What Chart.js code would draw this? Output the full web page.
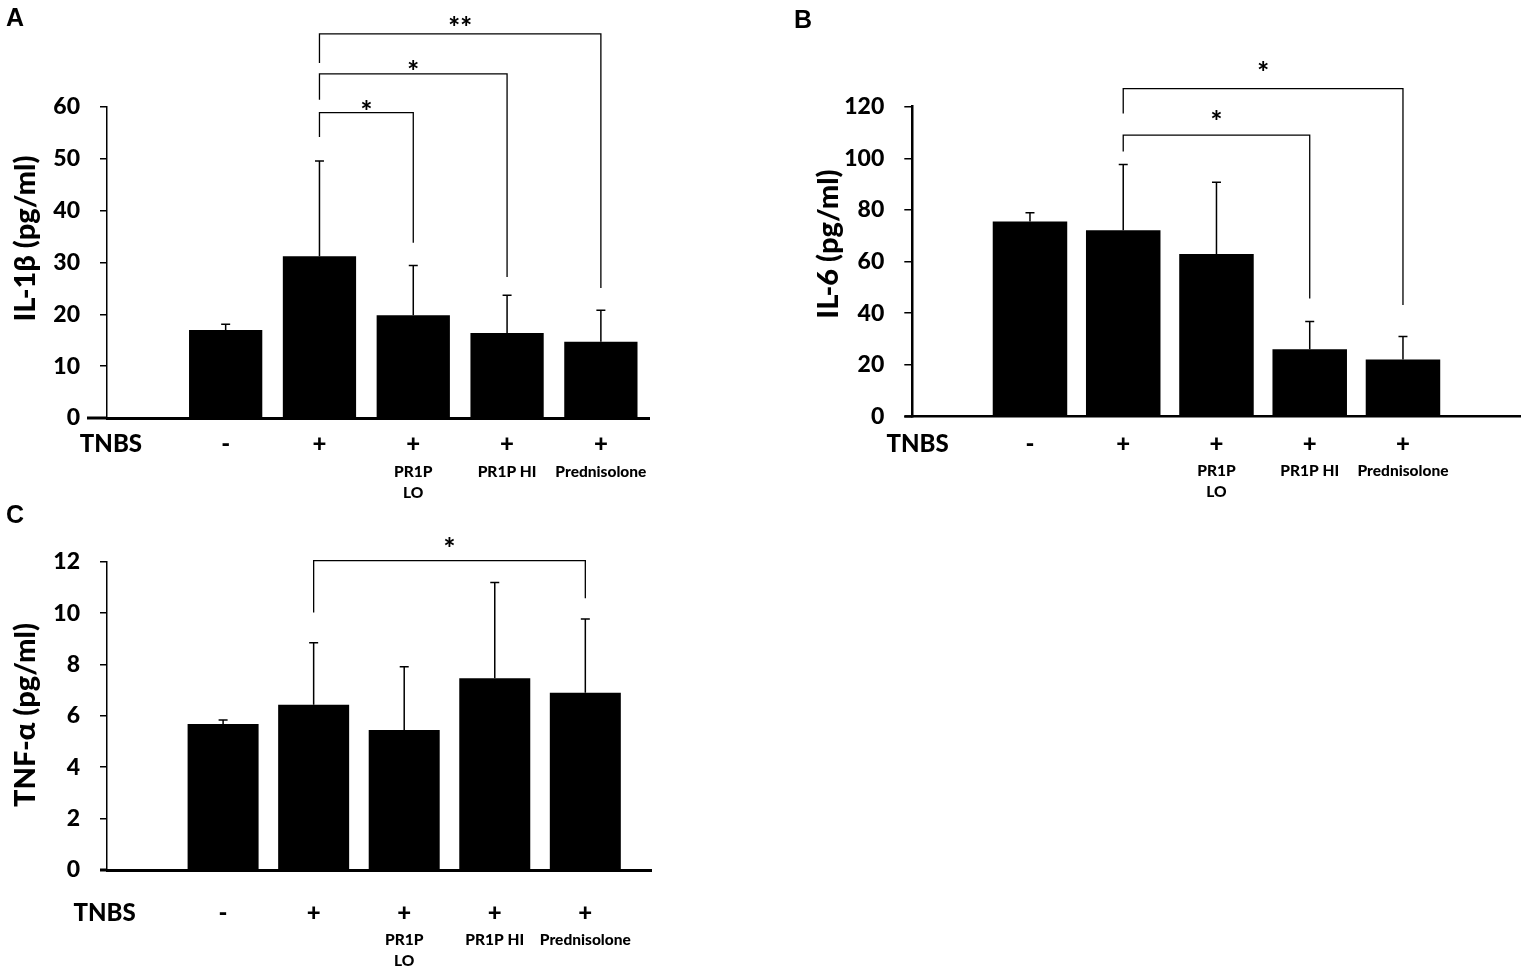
<!DOCTYPE html>
<html>
<head>
<meta charset="utf-8">
<title>Cytokines after TNBS</title>
<script src="https://cdn.jsdelivr.net/npm/chart.js@4.4.0/dist/chart.umd.min.js"></script>
<style>
    html, body { margin: 0; padding: 0; background: #fff; }
    #page { position: relative; width: 1524px; height: 974px; overflow: hidden; }
    canvas { position: absolute; }
    .tag { position: absolute; font: bold 25px "Liberation Sans", Arial, sans-serif; line-height: 1; color: #000; }
</style>
</head>
<body>
<div id="page">
    <canvas id="chartA" width="700" height="510" style="left:0;top:0"></canvas>
    <canvas id="chartB" width="744" height="510" style="left:780px;top:0"></canvas>
    <canvas id="chartC" width="700" height="474" style="left:0;top:500px"></canvas>
    <div class="tag" style="left:6px;top:5px">A</div>
    <div class="tag" style="left:794px;top:7px">B</div>
    <div class="tag" style="left:6px;top:502px">C</div>
</div>
<script>
// Groups (x axis rows)
const rowLabel = 'TNBS';
const tnbs = ['-', '+', '+', '+', '+'];
const treatments = ['', '', ['PR1P', 'LO'], 'PR1P HI', 'Prednisolone'];

// IL-1β (pg/ml), mean and upper error
const il1bMean = [17.0, 31.2, 19.8, 16.4, 14.7];
const il1bErr = [1.1, 18.4, 9.6, 7.3, 6.1];
const il1bTicks = [0, 10, 20, 30, 40, 50, 60];
const il1bBrackets = [
    { from: 2, to: 3, at: 58.9, left: 54.2, right: 33.8, mark: '*', markAt: 60.4 },
    { from: 2, to: 4, at: 66.4, left: 61.4, right: 27.2, mark: '*', markAt: 68.1 },
    { from: 2, to: 5, at: 74.1, left: 68.5, right: 25.1, mark: '**', markAt: 76.6 }
];

// IL-6 (pg/ml)
const il6Mean = [75.5, 72.1, 62.9, 26.0, 22.0];
const il6Err = [3.4, 25.5, 27.8, 10.7, 8.9];
const il6Ticks = [0, 20, 40, 60, 80, 100, 120];
const il6Brackets = [
    { from: 2, to: 4, at: 109.0, left: 102.6, right: 45.7, mark: '*', markAt: 116.8 },
    { from: 2, to: 5, at: 127.0, left: 117.4, right: 43.1, mark: '*', markAt: 135.9 }
];

// TNF-α (pg/ml)
const tnfMean = [5.68, 6.43, 5.45, 7.46, 6.90];
const tnfErr = [0.16, 2.42, 2.46, 3.73, 2.87];
const tnfTicks = [0, 2, 4, 6, 8, 10, 12];
const tnfBrackets = [
    { from: 2, to: 5, at: 12.04, left: 10.02, right: 10.58, mark: '*', markAt: 12.78 }
];

const FONT = 'Lato';
const WEIGHT = '900';

/**
 * Error bars, significance brackets, axis stub and the y title
 */
const marksPlugin = {
    id: 'marks',
    afterDatasetsDraw(chart, args, o) {
        const { ctx, chartArea } = chart;
        const xs = chart.scales.x;
        const ys = chart.scales.y;
        ctx.save();
        ctx.strokeStyle = '#000';
        ctx.fillStyle = '#000';

        // x axis line runs a bit left of the y axis
        const y0 = ys.getPixelForValue(0);
        ctx.lineWidth = o.xAxisWidth;
        ctx.beginPath();
        ctx.moveTo(chartArea.left - o.stub, y0);
        ctx.lineTo(chartArea.left, y0);
        ctx.stroke();

        // upper error bars
        ctx.lineWidth = 1.5;
        o.means.forEach((m, i) => {
            const px = xs.getPixelForValue(i + 1);
            const top = ys.getPixelForValue(m + o.errors[i]);
            ctx.beginPath();
            ctx.moveTo(px, ys.getPixelForValue(m));
            ctx.lineTo(px, top);
            ctx.moveTo(px - 4.5, top);
            ctx.lineTo(px + 4.5, top);
            ctx.stroke();
        });

        // brackets
        ctx.lineWidth = 1.3;
        ctx.font = `${WEIGHT} 28px ${FONT}`;
        ctx.textAlign = 'center';
        ctx.textBaseline = 'alphabetic';
        o.brackets.forEach(b => {
            const x1 = xs.getPixelForValue(b.from);
            const x2 = xs.getPixelForValue(b.to);
            const yl = ys.getPixelForValue(b.at);
            ctx.beginPath();
            ctx.moveTo(x1, ys.getPixelForValue(b.left));
            ctx.lineTo(x1, yl);
            ctx.lineTo(x2, yl);
            ctx.lineTo(x2, ys.getPixelForValue(b.right));
            ctx.stroke();
            const mt = ctx.measureText(b.mark);
            const cy = ys.getPixelForValue(b.markAt);
            ctx.fillText(b.mark, (x1 + x2) / 2, cy + (mt.actualBoundingBoxAscent - mt.actualBoundingBoxDescent) / 2);
        });

        // y axis title
        ctx.translate(o.title.x, o.title.y);
        ctx.rotate(-Math.PI / 2);
        ctx.font = `${WEIGHT} ${o.title.size}px ${FONT}`;
        ctx.textBaseline = 'middle';
        ctx.fillText(o.title.text, 0, 0);
        ctx.restore();
    }
};

function makePanel(id, cfg) {
    const a = cfg.area;
    const xTicks = [cfg.rowPos, 1, 2, 3, 4, 5];
    const xBase = {
        type: 'linear',
        position: 'bottom',
        min: cfg.xMin,
        max: cfg.xMax,
        offset: false,
        grid: { display: false, drawTicks: false }
    };
    return new Chart(document.getElementById(id), {
        type: 'bar',
        data: {
            datasets: [{
                xAxisID: 'x',
                data: cfg.means.map((v, i) => ({ x: i + 1, y: v })),
                backgroundColor: '#000',
                borderWidth: 0,
                barPercentage: cfg.barPct,
                categoryPercentage: 1
            }]
        },
        options: {
            responsive: false,
            animation: false,
            layout: {
                padding: {
                    left: 0,
                    top: a.top,
                    right: cfg.w - a.right,
                    bottom: cfg.h - a.bottom - cfg.x1h - cfg.x2h
                }
            },
            plugins: {
                legend: { display: false },
                tooltip: { enabled: false },
                marks: {
                    means: cfg.means,
                    errors: cfg.errors,
                    brackets: cfg.brackets,
                    stub: cfg.stub,
                    xAxisWidth: cfg.xAxisWidth,
                    title: cfg.title
                }
            },
            scales: {
                x: {
                    ...xBase,
                    afterBuildTicks: s => { s.ticks = xTicks.map(v => ({ value: v })); },
                    afterFit: s => { s.height = cfg.x1h; },
                    ticks: {
                        autoSkip: false,
                        maxRotation: 0,
                        color: '#000',
                        padding: cfg.x1pad,
                        font: c => ({ family: FONT, weight: WEIGHT, size: c.index === 0 ? 24 : 24, lineHeight: 1.1 }),
                        callback: (v, i) => (i === 0 ? rowLabel : tnbs[i - 1])
                    },
                    border: { display: true, color: '#000', width: cfg.xAxisWidth }
                },
                x2: {
                    ...xBase,
                    afterBuildTicks: s => { s.ticks = [1, 2, 3, 4, 5].map(v => ({ value: v })); },
                    afterFit: s => { s.height = cfg.x2h; },
                    ticks: {
                        autoSkip: false,
                        maxRotation: 0,
                        color: '#000',
                        padding: cfg.x2pad,
                        font: { family: FONT, weight: WEIGHT, size: 15.5, lineHeight: '21px' },
                        callback: (v, i) => treatments[i]
                    },
                    border: { display: false }
                },
                y: {
                    type: 'linear',
                    min: 0,
                    max: cfg.yTicks[cfg.yTicks.length - 1],
                    afterBuildTicks: s => { s.ticks = cfg.yTicks.map(v => ({ value: v })); },
                    afterFit: s => { s.width = a.left; },
                    ticks: {
                        color: '#000',
                        padding: 20,
                        font: { family: FONT, weight: WEIGHT, size: 23 }
                    },
                    grid: {
                        drawOnChartArea: false,
                        drawTicks: true,
                        tickLength: cfg.tickLen,
                        color: '#000',
                        lineWidth: 1.5
                    },
                    border: { display: true, color: '#000', width: cfg.yAxisWidth }
                }
            }
        },
        plugins: [marksPlugin]
    });
}

makePanel('chartA', {
    w: 700, h: 510,
    area: { left: 107, top: 107, right: 649, bottom: 418 },
    xMin: -0.265, xMax: 5.513, rowPos: -0.223, barPct: 0.781,
    x1h: 40, x2h: 52, x1pad: 13, x2pad: 3.5,
    tickLen: 7, stub: 20, xAxisWidth: 3, yAxisWidth: 1.5,
    means: il1bMean, errors: il1bErr, yTicks: il1bTicks, brackets: il1bBrackets,
    title: { text: 'IL-1β (pg/ml)', x: 25.4, y: 238.5, size: 29 }
});

makePanel('chartB', {
    w: 744, h: 510,
    area: { left: 132.3, top: 106.7, right: 740, bottom: 416.3 },
    xMin: -0.262, xMax: 6.255, rowPos: -0.206, barPct: 0.799,
    x1h: 40, x2h: 53.7, x1pad: 14.5, x2pad: 3.9,
    tickLen: 8, stub: 8, xAxisWidth: 2.5, yAxisWidth: 2.5,
    means: il6Mean, errors: il6Err, yTicks: il6Ticks, brackets: il6Brackets,
    title: { text: 'IL-6 (pg/ml)', x: 49, y: 244, size: 29 }
});

makePanel('chartC', {
    w: 700, h: 474,
    area: { left: 107, top: 61.7, right: 651.7, bottom: 370 },
    xMin: -0.282, xMax: 5.733, rowPos: -0.308, barPct: 0.784,
    x1h: 56, x2h: 48, x1pad: 30, x2pad: 3.5,
    tickLen: 7, stub: 7, xAxisWidth: 3, yAxisWidth: 1.5,
    means: tnfMean, errors: tnfErr, yTicks: tnfTicks, brackets: tnfBrackets,
    title: { text: 'TNF-α (pg/ml)', x: 25.5, y: 215, size: 29 }
});
</script>
</body>
</html>
